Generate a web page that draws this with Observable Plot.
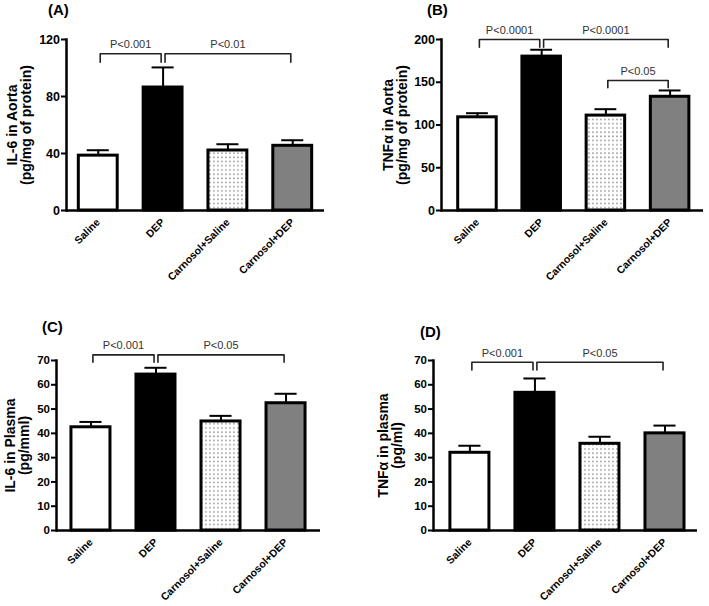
<!DOCTYPE html>
<html><head><meta charset="utf-8">
<script src="https://cdn.jsdelivr.net/npm/d3@7"></script>
<script src="https://cdn.jsdelivr.net/npm/@observablehq/plot@0.6"></script>
<style>
body{margin:0;background:#fff;font-family:"Liberation Sans",Arial,sans-serif;}
#wrap{position:relative;width:709px;height:606px;overflow:hidden;background:#fff;}
.panel{position:absolute;}
.tag{position:absolute;font:bold 15px "Liberation Sans",Arial,sans-serif;color:#000;line-height:16px;}
</style></head>
<body>
<svg width="0" height="0" style="position:absolute">
<defs><pattern id="dots" width="4" height="4.2" patternUnits="userSpaceOnUse"><rect width="4" height="4.2" fill="#fff"/><rect x="1" y="1.2" width="1.8" height="1.5" fill="#a3a3a3"/></pattern></defs>
</svg>
<div id="wrap"></div>
<script>
// ---- data ----
const groups = ["Saline", "DEP", "Carnosol+Saline", "Carnosol+DEP"];

const il6AortaMean = [38.5, 86.3, 42.1, 45.4];
const il6AortaSem  = [3.8, 14.1, 4.4, 3.9];
const il6AortaTicks = [0, 40, 80, 120];
const il6AortaBrackets = [
  {from: "Saline", to: "DEP", top: 110, leg: 104, label: "P<0.001"},
  {from: "DEP", to: "Carnosol+DEP", top: 110, leg: 104, label: "P<0.01"}
];

const tnfAortaMean = [109, 180, 111, 133];
const tnfAortaSem  = [4.8, 8, 7.5, 7.4];
const tnfAortaTicks = [0, 50, 100, 150, 200];
const tnfAortaBrackets = [
  {from: "Saline", to: "DEP", top: 200, leg: 191, label: "P<0.0001"},
  {from: "DEP", to: "Carnosol+DEP", top: 200, leg: 191, label: "P<0.0001"},
  {from: "Carnosol+Saline", to: "Carnosol+DEP", top: 152, leg: 143.5, label: "P<0.05"}
];

const il6PlasmaMean = [42.5, 64.2, 44.9, 52.4];
const il6PlasmaSem  = [2.2, 2.8, 2.3, 3.9];
const il6PlasmaTicks = [0, 10, 20, 30, 40, 50, 60, 70];
const il6PlasmaBrackets = [
  {from: "Saline", to: "DEP", top: 72.3, leg: 69.3, label: "P<0.001"},
  {from: "DEP", to: "Carnosol+DEP", top: 72.3, leg: 69.3, label: "P<0.05"}
];

const tnfPlasmaMean = [32, 56.7, 35.7, 40];
const tnfPlasmaSem  = [2.9, 5.9, 2.9, 3.2];
const tnfPlasmaTicks = [0, 10, 20, 30, 40, 50, 60, 70];
const tnfPlasmaBrackets = [
  {from: "Saline", to: "DEP", top: 69.3, leg: 66.1, label: "P<0.001"},
  {from: "DEP", to: "Carnosol+DEP", top: 69.3, leg: 66.1, label: "P<0.05"}
];

// ---- styles ----
const fills = ["#ffffff", "#000000", "url(#dots)", "#808080"];
const FONT = "Liberation Sans, Arial, sans-serif";

function panel(cfg) {
  const rows = groups.map((g, i) => ({i, g, mean: cfg.mean[i], sem: cfg.sem[i]}));
  const idx = g => groups.indexOf(g);
  const bpts = [];
  cfg.brackets.forEach((b, k) => {
    const a = idx(b.from) + 0.03, c = idx(b.to) - 0.03;
    bpts.push({k, x: a, y: b.leg}, {k, x: a, y: b.top}, {k, x: c, y: b.top}, {k, x: c, y: b.leg});
  });
  const chart = Plot.plot({
    width: cfg.width, height: cfg.height,
    marginLeft: cfg.m[0], marginRight: cfg.m[1], marginTop: cfg.m[2], marginBottom: cfg.m[3],
    style: {fontFamily: FONT, color: "#000", background: "transparent", overflow: "visible"},
    x: {domain: cfg.xDomain, axis: null},
    y: {domain: [0, cfg.yMax], axis: null},
    color: {type: "identity"},
    marks: [
      Plot.rectY(rows, {x1: d => d.i - 0.3, x2: d => d.i + 0.3, y: "mean", fill: d => fills[d.i], stroke: "#000", strokeWidth: 3}),
      Plot.ruleX(rows, {x: "i", y1: "mean", y2: d => d.mean + d.sem, stroke: "#000", strokeWidth: 2}),
      Plot.ruleY(rows, {x1: d => d.i - 0.17, x2: d => d.i + 0.17, y: d => d.mean + d.sem, stroke: "#000", strokeWidth: 2}),
      Plot.line(bpts, {x: "x", y: "y", z: "k", stroke: "#222", strokeWidth: 1.6}),
      Plot.text(cfg.brackets, {x: d => (idx(d.from) + idx(d.to)) / 2, y: "top", text: "label", dy: -9, fontSize: 11, fill: "#333", fontFamily: FONT}),
      Plot.frame({anchor: "left", strokeWidth: 2.5, stroke: "#000"}),
      Plot.ruleY([0], {strokeWidth: 2.5, stroke: "#000"}),
      Plot.axisY({ticks: cfg.yTicks, tickSize: 5, tickPadding: 1.5, strokeWidth: 2, fontSize: cfg.tickFont, fontWeight: "bold", label: null}),
      Plot.axisY({ticks: [], label: cfg.label, labelAnchor: "center", labelArrow: "none", labelOffset: cfg.labelOffset, fontSize: 14, fontWeight: "bold", lineHeight: cfg.lineHeight}),
      Plot.axisX({ticks: [0, 1, 2, 3], tickFormat: i => groups[i], tickRotate: -45, tickSize: 0, tickPadding: 10, fontSize: 10.5, fontWeight: "bold", label: null})
    ]
  });
  const div = document.createElement("div");
  div.className = "panel";
  div.style.left = cfg.left + "px";
  div.style.top = cfg.top + "px";
  div.appendChild(chart);
  document.getElementById("wrap").appendChild(div);
  const t = document.createElement("div");
  t.className = "tag";
  t.textContent = cfg.tag;
  t.style.left = cfg.tagPos[0] + "px";
  t.style.top = cfg.tagPos[1] + "px";
  document.getElementById("wrap").appendChild(t);
}

panel({tag: "(A)", tagPos: [48, 2], left: 0, top: 0, width: 354, height: 300, m: [66, 30, 39, 90],
  xDomain: [-0.49, 3.49], yMax: 120, yTicks: il6AortaTicks, mean: il6AortaMean, sem: il6AortaSem, tickFont: 12.5,
  brackets: il6AortaBrackets, label: "IL-6 in Aorta\n(pg/mg of protein)", labelOffset: 59, lineHeight: 1.08});
panel({tag: "(B)", tagPos: [427, 2], left: 355, top: 0, width: 354, height: 300, m: [86, 6, 39, 90],
  xDomain: [-0.56, 3.52], yMax: 200, yTicks: tnfAortaTicks, mean: tnfAortaMean, sem: tnfAortaSem, tickFont: 12.5,
  brackets: tnfAortaBrackets, label: "TNFα in Aorta\n(pg/mg of protein)", labelOffset: 58, lineHeight: 1.08});
panel({tag: "(C)", tagPos: [42, 319], left: 0, top: 300, width: 354, height: 306, m: [56, 34, 60, 76],
  xDomain: [-0.53, 3.53], yMax: 70, yTicks: il6PlasmaTicks, mean: il6PlasmaMean, sem: il6PlasmaSem, tickFont: 11.5,
  brackets: il6PlasmaBrackets, label: "IL-6 in Plasma\n(pg/mml)", labelOffset: 51, lineHeight: 1.2});
panel({tag: "(D)", tagPos: [420, 324], left: 355, top: 300, width: 354, height: 306, m: [78, 12, 60, 76],
  xDomain: [-0.56, 3.5], yMax: 70, yTicks: tnfPlasmaTicks, mean: tnfPlasmaMean, sem: tnfPlasmaSem, tickFont: 11.5,
  brackets: tnfPlasmaBrackets, label: "TNFα in plasma\n(pg/ml)", labelOffset: 55, lineHeight: 1.2});
</script>
</body></html>
